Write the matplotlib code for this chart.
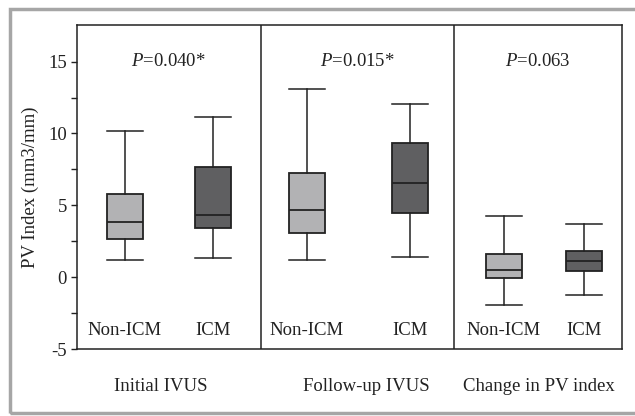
import matplotlib
matplotlib.use('Agg')
import matplotlib.pyplot as plt
from matplotlib.patches import Rectangle

plt.rcParams['font.family'] = ['Liberation Serif', 'DejaVu Serif']
plt.rcParams['mathtext.fontset'] = 'custom'
plt.rcParams['mathtext.it'] = 'Liberation Serif:italic'
plt.rcParams['mathtext.rm'] = 'Liberation Serif'
plt.rcParams['axes.unicode_minus'] = False

# data (whisker low, q1, median, q3, whisker high)
groups = ['Initial IVUS', 'Follow-up IVUS', 'Change in PV index']
cats = ['Non-ICM', 'ICM', 'Non-ICM', 'ICM', 'Non-ICM', 'ICM']
whislo = [1.2, 1.34, 1.16, 1.39, -1.95, -1.23]
q1 = [2.67, 3.39, 3.04, 4.48, -0.07, 0.42]
med = [3.83, 4.34, 4.69, 6.55, 0.53, 1.11]
q3 = [5.8, 7.68, 7.24, 9.37, 1.64, 1.81]
whishi = [10.2, 11.14, 13.1, 12.05, 4.29, 3.71]
pvals = ['0.040*', '0.015*', '0.063']

positions = [4.8, 13.6, 23.0, 33.3, 42.7, 50.7]
dividers = [18.4, 37.7]
edges = [0, 18.4, 37.7, 54.5]
group_x = [8.4, 28.9, 46.2]
colors = ['#b2b2b4', '#5f5f61'] * 3
fs = 13.5

fig = plt.figure(figsize=(6.35, 4.16), dpi=100)
ax = fig.add_axes([76.7 / 635, 1 - 349 / 416, 545.3 / 635, 324 / 416])

stats = []
for i in range(len(cats)):
    stats.append(dict(whislo=whislo[i], q1=q1[i], med=med[i], q3=q3[i],
                      whishi=whishi[i], fliers=[]))

bp = ax.bxp(stats, positions=positions, widths=3.6, patch_artist=True,
            showfliers=False, manage_ticks=False,
            boxprops=dict(linewidth=1.3, edgecolor='#222222'),
            medianprops=dict(color='#222222', linewidth=1.3),
            whiskerprops=dict(color='#222222', linewidth=1.1),
            capprops=dict(color='#222222', linewidth=1.1))
for patch, c in zip(bp['boxes'], colors):
    patch.set_facecolor(c)
for cap in bp['caps']:
    x = cap.get_xdata()
    mid = (x[0] + x[1]) / 2
    cap.set_xdata([mid - 1.8, mid + 1.8])

for d in dividers:
    ax.axvline(d, color='#222222', linewidth=1.1)

ax.set_xlim(0, 54.5)
ax.set_ylim(-5, 17.55)
ax.set_yticks([-5, 0, 5, 10, 15])
ax.set_yticks([-2.5, 2.5, 7.5, 12.5], minor=True)
ax.set_xticks([])
ax.tick_params(axis='y', which='both', direction='out', length=4, width=1,
               labelsize=fs, pad=3, colors='#222222')
for s in ax.spines.values():
    s.set_linewidth(1.1)
    s.set_color('#222222')
ax.set_ylabel('PV Index (mm3/mm)', fontsize=fs, labelpad=7, color='#222222')

for i in range(len(cats)):
    ax.text(positions[i], -3.7, cats[i], ha='center', va='center', fontsize=fs,
            color='#222222')

for j in range(3):
    cx = (edges[j] + edges[j + 1]) / 2
    ax.text(cx, 15, '$P$=' + pvals[j], ha='center', va='center', fontsize=fs,
            color='#222222')
    ax.text(group_x[j], -7.6, groups[j], ha='center', va='center', fontsize=fs,
            color='#222222', clip_on=False)

# gray frame round the figure
fig.patches.append(Rectangle((9.5 / 635, 1 - 412.5 / 416), 640 / 635, 403.5 / 416,
                             transform=fig.transFigure, fill=False,
                             edgecolor='#a6a6a6', linewidth=2.5))

fig.savefig('out.png', dpi=100)
